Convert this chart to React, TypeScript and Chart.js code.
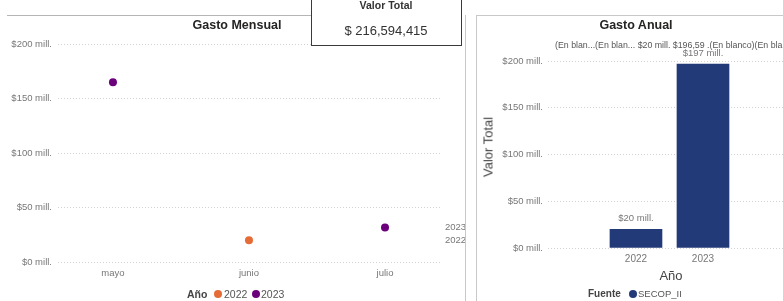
import React, { useEffect, useRef } from "react";
import { Chart, registerables } from "chart.js";
Chart.register(...registerables);

// ---- data ----
const months = ["mayo", "junio", "julio"];
const seriesYears = ["2022", "2023"];
const monthly2022: (number | null)[] = [null, 20.0, null];
const monthly2023: (number | null)[] = [165.0, null, 31.6];
const seriesColors = ["#E66C37", "#6B007B"];
const annualYears = ["2022", "2023"];
const annualValues = [20.0, 196.59];
const yMax = 200;
const yStep = 50;
const totalLabel = "Valor Total";
const totalValue = "$ 216,594,415";
const overlapLabels = "(En blan...(En blan... $20 mill.  $196,59 .(En blanco)(En bla..";

const FONT = "'Liberation Sans', Arial, sans-serif";
const fmt = (v: number) => `$${v} mill.`;

function MonthlyChart() {
  const ref = useRef<HTMLCanvasElement>(null);
  useEffect(() => {
    const mk = (arr: (number | null)[]) =>
      arr.map((v, i) => (v == null ? null : { x: i, y: v })).filter(Boolean) as { x: number; y: number }[];
    const endLabels = {
      id: "endLabels",
      afterDatasetsDraw(chart: any) {
        const ctx = chart.ctx;
        const ys = chart.scales.y;
        ctx.save();
        ctx.font = `9.5px ${FONT}`;
        ctx.fillStyle = "#777";
        ctx.textAlign = "left";
        ctx.textBaseline = "middle";
        chart.data.datasets.forEach((ds: any) => {
          const last = ds.data[ds.data.length - 1];
          if (!last) return;
          ctx.fillText(ds.label, chart.chartArea.right + 3, ys.getPixelForValue(last.y));
        });
        ctx.restore();
      },
    };
    const chart = new Chart(ref.current!, {
      type: "scatter",
      data: {
        datasets: [
          { label: seriesYears[0], data: mk(monthly2022), backgroundColor: seriesColors[0], borderColor: seriesColors[0], pointRadius: 4, borderWidth: 0 },
          { label: seriesYears[1], data: mk(monthly2023), backgroundColor: seriesColors[1], borderColor: seriesColors[1], pointRadius: 4, borderWidth: 0 },
        ],
      },
      options: {
        animation: false,
        responsive: false,
        maintainAspectRatio: false,
        layout: { padding: { left: 0, top: 44, right: 23, bottom: 19 } },
        plugins: { legend: { display: false }, tooltip: { enabled: false }, title: { display: false } },
        scales: {
          x: {
            type: "linear",
            min: -0.404,
            max: 2.419,
            grid: { display: false, drawTicks: false },
            border: { display: false },
            afterBuildTicks: (axis: any) => { axis.ticks = months.map((_, i) => ({ value: i })); },
            afterFit: (axis: any) => { axis.height = 20; },
            ticks: {
              padding: 6,
              color: "#777",
              font: { family: FONT, size: 9.5 },
              maxRotation: 0,
              autoSkip: false,
              callback: (v: any) => months[v],
            },
          },
          y: {
            min: 0,
            max: yMax,
            grid: { color: "#d2d2d2", drawTicks: false, lineWidth: 1 },
            border: { display: false, dash: [1, 2] },
            afterFit: (axis: any) => { axis.width = 58; },
            ticks: { stepSize: yStep, padding: 6, color: "#777", font: { family: FONT, size: 9.5 }, callback: (v: any) => fmt(v) },
          },
        },
      },
      plugins: [endLabels],
    } as any);
    return () => chart.destroy();
  }, []);
  return <canvas ref={ref} width={465} height={301} style={{ position: "absolute", left: 0, top: 0, width: 465, height: 301 }} />;
}

function AnnualChart() {
  const ref = useRef<HTMLCanvasElement>(null);
  useEffect(() => {
    const barLabels = {
      id: "barLabels",
      afterDatasetsDraw(chart: any) {
        const ctx = chart.ctx;
        ctx.save();
        ctx.font = `9.5px ${FONT}`;
        ctx.fillStyle = "#777";
        ctx.textAlign = "center";
        ctx.textBaseline = "middle";
        const meta = chart.getDatasetMeta(0);
        meta.data.forEach((bar: any, i: number) => {
          ctx.fillText(fmt(Math.round(annualValues[i])), bar.x, bar.y - 11);
        });
        ctx.restore();
      },
    };
    const chart = new Chart(ref.current!, {
      type: "bar",
      data: {
        datasets: [
          {
            label: "SECOP_II",
            data: annualValues.map((v, i) => ({ x: i, y: v })),
            backgroundColor: "#233A78",
            barThickness: 52,
          },
        ],
      },
      options: {
        animation: false,
        responsive: false,
        maintainAspectRatio: false,
        layout: { padding: { left: 0, top: 61, right: 0, bottom: 33 } },
        plugins: { legend: { display: false }, tooltip: { enabled: false }, title: { display: false } },
        scales: {
          x: {
            type: "linear",
            min: -1.313,
            max: 2.194,
            offset: false,
            grid: { display: false, drawTicks: false },
            border: { display: false },
            afterBuildTicks: (axis: any) => { axis.ticks = annualYears.map((_, i) => ({ value: i })); },
            afterFit: (axis: any) => { axis.height = 20; },
            ticks: {
              padding: 5,
              color: "#777",
              font: { family: FONT, size: 10 },
              maxRotation: 0,
              autoSkip: false,
              callback: (v: any) => annualYears[v],
            },
          },
          y: {
            min: 0,
            max: yMax,
            grid: { color: "#d2d2d2", drawTicks: false, lineWidth: 1 },
            border: { display: false, dash: [1, 2] },
            afterFit: (axis: any) => { axis.width = 72; },
            ticks: { stepSize: yStep, padding: 5, color: "#777", font: { family: FONT, size: 9.5 }, callback: (v: any) => fmt(v) },
          },
        },
      },
      plugins: [barLabels],
    } as any);
    return () => chart.destroy();
  }, []);
  return <canvas ref={ref} width={307} height={301} style={{ position: "absolute", left: 476, top: 0, width: 307, height: 301 }} />;
}

const T = (props: { x: number; y: number; size: number; bold?: boolean; color?: string; children: any; anchor?: "left" | "center"; rotate?: boolean }) => (
  <div
    style={{
      position: "absolute",
      left: props.x,
      top: props.y,
      transform: `${props.anchor === "left" ? "translate(0,-50%)" : "translate(-50%,-50%)"}${props.rotate ? " rotate(-90deg)" : ""}`,
      fontSize: props.size,
      fontWeight: props.bold ? 700 : 400,
      color: props.color || "#333",
      whiteSpace: "nowrap",
      lineHeight: 1,
    }}
  >
    {props.children}
  </div>
);

const Dot = (p: { x: number; y: number; color: string }) => (
  <div style={{ position: "absolute", left: p.x - 4, top: p.y - 4, width: 8, height: 8, borderRadius: 4, background: p.color }} />
);

export default function App() {
  return (
    <div style={{ position: "fixed", left: 0, top: 0, width: 783, height: 301, overflow: "hidden", background: "#fff", fontFamily: FONT }}>
      {/* panel frames */}
      <div style={{ position: "absolute", left: 7, top: 15, width: 304, height: 1, background: "#b5b5b5" }} />
      <div style={{ position: "absolute", left: 465, top: 15, width: 1, height: 286, background: "#c8c8c8" }} />
      <div style={{ position: "absolute", left: 476, top: 15, width: 307, height: 1, background: "#c8c8c8" }} />
      <div style={{ position: "absolute", left: 476, top: 15, width: 1, height: 286, background: "#c8c8c8" }} />

      <MonthlyChart />
      <AnnualChart />

      {/* left panel texts */}
      <T x={237} y={25} size={12.5} bold color="#252423">Gasto Mensual</T>
      <T x={187} y={294} size={10.5} bold color="#444" anchor="left">Año</T>
      <Dot x={218} y={294} color={seriesColors[0]} />
      <T x={224} y={294} size={10.5} color="#555" anchor="left">{seriesYears[0]}</T>
      <Dot x={256} y={294} color={seriesColors[1]} />
      <T x={261} y={294} size={10.5} color="#555" anchor="left">{seriesYears[1]}</T>

      {/* card */}
      <div style={{ position: "absolute", left: 311, top: -1, width: 149, height: 45, border: "1px solid #3a3a3a", background: "#fff" }} />
      <T x={386} y={5} size={10.5} bold color="#333">{totalLabel}</T>
      <T x={386} y={30} size={13} color="#333">{totalValue}</T>

      {/* right panel texts */}
      <T x={636} y={25} size={12.5} bold color="#252423">Gasto Anual</T>
      <T x={555} y={45} size={8.8} color="#555" anchor="left">{overlapLabels}</T>
      <T x={488} y={147} size={13} color="#444" rotate>Valor Total</T>
      <T x={671} y={275} size={13} color="#444">Año</T>
      <T x={588} y={294} size={10} bold color="#444" anchor="left">Fuente</T>
      <Dot x={633} y={294} color="#233A78" />
      <T x={638} y={294} size={9.5} color="#555" anchor="left">SECOP_II</T>
    </div>
  );
}
